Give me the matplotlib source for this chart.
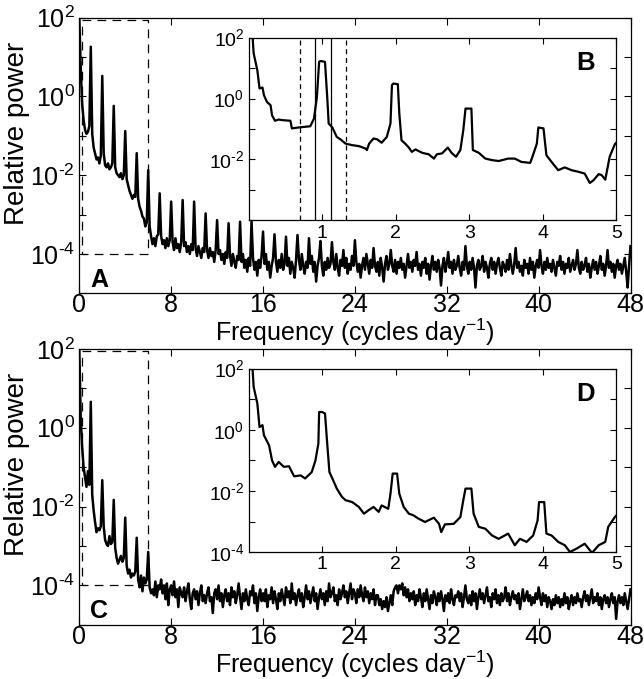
import matplotlib
matplotlib.use("Agg")
import matplotlib.pyplot as plt
import numpy as np
from matplotlib.ticker import FixedLocator, FixedFormatter, NullLocator

plt.rcParams["font.family"] = ["Liberation Sans", "DejaVu Sans"]
plt.rcParams["mathtext.fontset"] = "custom"
plt.rcParams["mathtext.rm"] = "Liberation Sans"
plt.rcParams["mathtext.it"] = "Liberation Sans:italic"
plt.rcParams["mathtext.bf"] = "Liberation Sans:bold"

# ── Data (log10 of relative power) ───────────────────────────────────────────

# full spectra, one value every 1/8 cycle per day from 0 to 48
FREQ_STEP = 0.125

a_logp = [
    2.0, 0.7, -0.2, -0.6, -0.85, -0.95, -0.9, -0.75,
    1.26, -0.95, -1.3, -1.45, -1.6, -1.55, -1.7, -1.5,
    0.52, -1.45, -1.75, -1.8, -1.7, -1.85, -1.8, -1.7,
    -0.24, -1.8, -1.95, -2.0, -2.05, -1.95, -2.1, -2.0,
    -0.88, -2.1, -2.25, -2.4, -2.5, -2.6, -2.5, -2.55,
    -1.44, -2.6, -2.8, -2.9, -3.05, -3.1, -3.3, -3.2,
    -1.87, -3.3, -3.55, -3.75, -3.6, -3.8, -3.55, -3.5,
    -2.46, -3.55, -3.75, -3.65, -3.85, -3.6, -3.8, -3.65,
    -2.67, -3.7, -3.9, -3.6, -3.85, -3.75, -3.95, -3.7,
    -2.63, -3.8, -3.7, -3.95, -3.8, -4.0, -3.75, -3.9,
    -2.67, -3.85, -4.05, -3.8, -3.95, -4.1, -3.85, -3.95,
    -2.97, -3.9, -4.1, -3.85, -4.05, -3.95, -4.2, -3.9,
    -3.14, -4.0, -3.9, -4.15, -4.0, -4.25, -3.95, -4.1,
    -3.22, -4.05, -4.3, -4.0, -4.2, -4.35, -4.05, -4.15,
    -3.18, -4.2, -4.0, -4.35, -4.15, -4.45, -4.1, -4.3,
    -3.18, -4.1, -4.4, -4.2, -4.55, -4.15, -4.35, -4.05,
    -3.43, -4.25, -4.0, -4.4, -4.2, -4.6, -4.3, -4.1,
    -3.5, -4.2, -4.45, -4.15, -4.35, -4.0, -4.4, -4.25,
    -3.56, -4.3, -4.1, -4.5, -4.2, -4.35, -4.6, -4.15,
    -3.52, -4.15, -4.4, -4.0, -4.3, -4.5, -4.2, -4.35,
    -3.6, -4.25, -4.05, -4.45, -4.2, -4.7, -4.3, -4.1,
    -3.67, -4.3, -4.55, -4.2, -4.4, -4.1, -4.35, -4.25,
    -3.7, -4.2, -4.4, -4.0, -4.35, -4.55, -4.15, -4.3,
    -3.9, -4.35, -4.1, -4.5, -4.25, -4.4, -4.05, -4.3,
    -3.65, -4.2, -4.45, -4.25, -4.6, -4.3, -4.1, -4.4,
    -4.0, -4.25, -4.5, -4.15, -4.35, -3.85, -4.3, -4.45,
    -4.2, -4.55, -4.1, -4.35, -4.7, -4.25, -4.05, -4.4,
    -4.25, -3.9, -4.3, -4.45, -4.15, -4.5, -4.2, -4.35,
    -4.1, -4.4, -4.25, -4.6, -4.3, -4.0, -4.35, -4.2,
    -4.45, -4.15, -4.3, -3.95, -4.4, -4.25, -4.55, -4.2,
    -4.35, -4.1, -4.5, -4.25, -4.65, -4.3, -4.05, -4.4,
    -4.2, -4.45, -4.15, -4.35, -4.8, -4.3, -4.1, -4.45,
    -4.25, -3.95, -4.35, -4.2, -4.5, -4.15, -4.4, -4.3,
    -4.05, -4.35, -4.55, -4.2, -4.4, -3.8, -4.3, -4.5,
    -4.2, -4.4, -4.1, -4.35, -4.85, -4.3, -4.15, -4.4,
    -4.3, -4.05, -4.45, -4.2, -4.35, -4.6, -4.25, -4.1,
    -4.4, -4.2, -4.5, -4.25, -4.1, -4.35, -4.55, -4.2,
    -4.3, -4.45, -4.15, -4.4, -4.0, -4.3, -4.5, -4.25,
    -3.85, -4.35, -4.2, -4.45, -4.3, -4.55, -4.15, -4.35,
    -4.25, -4.5, -4.1, -4.4, -4.2, -4.6, -4.3, -4.15,
    -4.35, -3.9, -4.3, -4.5, -4.2, -4.4, -4.1, -4.35,
    -4.25, -4.45, -4.15, -4.35, -4.55, -4.2, -4.3, -4.05,
    -4.4, -4.2, -4.5, -4.25, -4.35, -4.1, -4.45, -4.3,
    -4.15, -4.4, -4.25, -3.9, -4.35, -4.5, -4.2, -4.4,
    -4.3, -4.1, -4.45, -4.25, -4.6, -4.35, -4.15, -4.4,
    -4.2, -4.5, -4.3, -4.05, -4.4, -4.25, -4.55, -4.3,
    -3.9, -4.35, -4.2, -4.45, -4.25, -4.6, -4.3, -4.15,
    -4.4, -4.25, -4.5, -4.3, -4.1, -4.45, -4.85, -4.3,
    -3.8,
]

c_logp = [
    2.0, 0.2, -0.5, -1.0, -1.25, -1.5, -1.1, -1.45,
    0.66, -1.7, -2.1, -2.4, -2.65, -2.55, -2.6, -2.5,
    -1.33, -2.5, -2.85, -2.95, -3.0, -2.75, -2.95, -2.9,
    -1.83, -3.05, -3.3, -3.45, -3.35, -3.25, -3.4, -3.3,
    -2.28, -3.5, -3.7, -3.6, -3.8, -3.7, -3.75, -3.65,
    -2.79, -3.85, -4.05, -3.75, -4.15, -3.8, -3.95, -3.85,
    -3.15, -4.05, -4.2, -4.1, -4.25, -3.9, -4.3, -4.0,
    -4.1, -3.85, -4.2, -4.0, -4.35, -3.95, -4.5, -4.1,
    -4.0, -4.25, -3.9, -4.3, -4.1, -4.55, -4.05, -4.2,
    -4.3, -4.05, -4.4, -4.15, -3.95, -4.35, -4.6, -4.2,
    -4.1, -4.35, -4.15, -4.5, -4.2, -4.0, -4.4, -4.25,
    -4.45, -4.2, -4.05, -4.4, -4.3, -4.7, -4.2, -4.1,
    -4.35, -4.0, -4.4, -4.2, -4.55, -4.25, -4.1, -4.4,
    -4.2, -4.5, -4.05, -4.3, -4.15, -4.45, -4.25, -3.95,
    -4.3, -4.6, -4.2, -4.4, -4.1, -4.35, -4.5, -4.15,
    -4.25, -4.0, -4.45, -4.2, -4.65, -4.3, -4.1, -4.4,
    -4.2, -4.4, -4.1, -4.55, -4.25, -4.35, -4.05, -4.45,
    -4.15, -4.35, -4.6, -4.2, -4.4, -4.1, -4.3, -4.5,
    -4.05, -4.3, -4.15, -4.45, -3.95, -4.35, -4.2, -4.5,
    -4.25, -4.1, -4.4, -4.2, -4.55, -4.3, -4.0, -4.35,
    -4.15, -4.45, -4.25, -4.05, -4.4, -4.2, -4.6, -4.3,
    -4.1, -4.35, -4.2, -4.5, -4.15, -4.4, -3.95, -4.3,
    -4.2, -4.05, -4.4, -4.25, -4.5, -4.1, -4.35, -4.2,
    -4.0, -4.3, -4.15, -4.45, -4.2, -3.95, -4.35, -4.1,
    -4.2, -4.45, -4.1, -4.3, -4.0, -4.25, -4.4, -4.05,
    -4.3, -4.15, -4.45, -4.2, -4.35, -4.1, -4.5, -4.25,
    -4.25, -4.5, -4.35, -4.6, -4.4, -4.55, -4.3, -4.65,
    -4.45, -4.25, -4.5, -4.15, -4.05, -4.0, -4.2, -4.0,
    -4.1, -3.95, -4.25, -4.05, -4.3, -4.1, -4.4, -4.2,
    -4.35, -4.15, -4.5, -4.25, -4.4, -4.1, -4.3, -4.55,
    -4.2, -4.4, -4.1, -4.35, -4.6, -4.25, -4.45, -4.15,
    -4.3, -4.5, -4.2, -4.4, -4.15, -4.35, -4.65, -4.25,
    -4.4, -4.2, -4.45, -4.1, -4.35, -4.5, -4.25, -4.3,
    -4.15, -4.4, -4.2, -4.55, -4.3, -4.0, -4.35, -4.45,
    -4.25, -4.5, -4.15, -4.4, -4.2, -4.6, -4.3, -4.1,
    -4.35, -4.2, -4.45, -4.25, -4.05, -4.4, -4.3, -4.55,
    -4.2, -4.35, -4.1, -4.45, -4.25, -4.5, -4.2, -4.4,
    -4.3, -4.05, -4.4, -4.2, -4.5, -4.3, -4.15, -4.35,
    -4.25, -4.45, -4.2, -4.6, -4.35, -4.1, -4.4, -4.3,
    -4.15, -4.4, -4.25, -4.5, -4.3, -4.45, -4.2, -4.35,
    -4.05, -4.3, -4.5, -4.2, -4.4, -4.25, -4.55, -4.3,
    -4.4, -4.6, -4.35, -4.5, -4.25, -4.45, -4.3, -4.55,
    -4.35, -4.5, -4.2, -4.45, -4.3, -4.6, -4.4, -4.25,
    -4.5, -4.3, -4.45, -4.2, -4.4, -4.35, -4.55, -4.3,
    -4.15, -4.4, -4.25, -4.5, -4.3, -4.1, -4.45, -4.3,
    -4.4, -4.2, -4.5, -4.3, -4.6, -4.35, -4.25, -4.45,
    -4.3, -4.55, -4.35, -4.2, -4.45, -4.3, -4.85, -4.4,
    -4.25, -4.45, -4.3, -4.5, -4.2, -4.4, -4.6, -4.35,
    -4.1,
]

# smoothed low-frequency spectra shown in the insets
b_freq = [0.04, 0.07, 0.12, 0.15, 0.19, 0.21, 0.25, 0.30, 0.32, 0.36, 0.41,
          0.46, 0.57, 0.59, 0.68, 0.84, 0.89, 0.93, 0.96, 0.98, 1.04, 1.07,
          1.09, 1.14, 1.20, 1.25, 1.32, 1.41, 1.50, 1.59, 1.61, 1.64, 1.70,
          1.75, 1.81, 1.88, 1.93, 1.95, 1.97, 2.03, 2.05, 2.08, 2.13, 2.18,
          2.22, 2.27, 2.36, 2.45, 2.52, 2.56, 2.63, 2.71, 2.76, 2.82, 2.88,
          2.92, 2.95, 3.03, 3.05, 3.13, 3.22, 3.31, 3.40, 3.53, 3.62, 3.71,
          3.83, 3.86, 3.92, 3.94, 4.01, 4.05, 4.12, 4.21, 4.30, 4.39, 4.48,
          4.57, 4.64, 4.69, 4.76, 4.80, 4.85, 4.91, 4.98, 5.0]
b_logp = [2.6, 1.48, 0.93, 0.33, 0.36, 0.11, -0.11, -0.22, -0.55, -0.73,
          -0.69, -0.71, -0.73, -0.98, -0.95, -0.91, -0.66, 0.05, 1.2, 1.23,
          1.2, 0.05, -0.82, -0.95, -1.26, -1.34, -1.48, -1.53, -1.56, -1.64,
          -1.69, -1.48, -1.31, -1.34, -1.45, -1.26, -0.82, 0.44, 0.49, 0.47,
          -0.49, -1.37, -1.48, -1.61, -1.75, -1.67, -1.78, -1.83, -1.97,
          -1.83, -1.80, -1.61, -1.78, -1.91, -1.69, -1.04, -0.33, -0.33,
          -1.69, -1.78, -1.97, -2.02, -2.05, -1.97, -1.97, -2.08, -2.11,
          -1.91, -1.48, -0.95, -0.98, -1.86, -2.08, -2.35, -2.26, -2.35,
          -2.40, -2.46, -2.77, -2.68, -2.48, -2.51, -2.66, -1.91, -1.50, -1.45]

d_freq = [0.04, 0.07, 0.12, 0.15, 0.19, 0.21, 0.28, 0.32, 0.36, 0.41, 0.48,
          0.55, 0.62, 0.71, 0.77, 0.86, 0.91, 0.95, 0.96, 1.0, 1.04, 1.07,
          1.10, 1.14, 1.20, 1.27, 1.32, 1.41, 1.50, 1.57, 1.63, 1.70, 1.77,
          1.81, 1.90, 1.93, 1.96, 2.02, 2.05, 2.11, 2.18, 2.24, 2.31, 2.40,
          2.52, 2.59, 2.62, 2.67, 2.79, 2.88, 2.92, 2.95, 3.03, 3.06, 3.13,
          3.22, 3.31, 3.40, 3.53, 3.62, 3.69, 3.78, 3.87, 3.93, 3.95, 4.02,
          4.05, 4.12, 4.21, 4.30, 4.37, 4.46, 4.57, 4.67, 4.76, 4.85, 4.89,
          4.98, 5.0]
d_logp = [2.6, 1.40, 0.86, 0.09, 0.15, -0.18, -0.51, -1.0, -1.21, -1.05,
          -1.21, -1.19, -1.52, -1.49, -1.59, -1.38, -1.0, -0.45, 0.58, 0.58,
          0.53, -0.45, -1.38, -1.59, -1.92, -2.19, -2.30, -2.36, -2.52,
          -2.74, -2.63, -2.52, -2.68, -2.47, -2.58, -2.09, -1.43, -1.43,
          -2.09, -2.52, -2.74, -2.79, -2.90, -3.01, -2.87, -3.07, -3.34,
          -3.09, -3.07, -2.85, -2.30, -1.92, -1.92, -2.74, -3.17, -3.23,
          -3.45, -3.56, -3.39, -3.77, -3.56, -3.66, -3.45, -2.96, -2.36,
          -2.36, -3.39, -3.45, -3.66, -3.77, -3.99, -3.88, -3.72, -4.02,
          -3.77, -3.66, -3.17, -2.85, -2.80]

# frequency markers in inset B (cycles per day)
b_dashed = [0.7, 1.32]
b_solid = [0.905, 1.115]

main_yexp = [-5, -4, -3, -2, -1, 0, 1, 2]
inset_yexp = [-4, -3, -2, -1, 0, 1, 2]

# ── Figure ───────────────────────────────────────────────────────────────────

W, H = 644, 679
fig = plt.figure(figsize=(W / 100, H / 100), dpi=100, facecolor="white")


def px_axes(left, top, right, bottom):
    return fig.add_axes([left / W, 1 - bottom / H, (right - left) / W, (bottom - top) / H])


def exp_labels(exps, shown):
    # superscript with a plain hyphen, as in the original figure
    out = []
    for e in exps:
        if e not in shown:
            out.append("")
        elif e < 0:
            out.append(rf"$\mathregular{{10^{{\text{{-}}{-e}}}}}$")
        else:
            out.append(rf"$\mathregular{{10^{{{e}}}}}$")
    return out


def style_main(ax, logp, tag):
    freq = np.arange(len(logp)) * FREQ_STEP
    ax.plot(freq, 10.0 ** np.array(logp), color="black", lw=1.8)
    ax.set_yscale("log")
    ax.set_xlim(0, 48)
    ax.set_ylim(1e-5, 1e2)
    ax.set_xticks(np.arange(0, 49, 8))
    ticks = [10.0 ** e for e in main_yexp]
    ax.yaxis.set_major_locator(FixedLocator(ticks))
    ax.yaxis.set_major_formatter(FixedFormatter(exp_labels(main_yexp, [2, 0, -2, -4])))
    ax.yaxis.set_minor_locator(NullLocator())
    ax.tick_params(direction="in", top=True, right=True, length=5, width=0.8,
                   labelsize=18)
    ax.tick_params(axis="x", pad=0)
    ax.tick_params(axis="y", pad=3)
    for s in ax.spines.values():
        s.set_linewidth(0.9)
    ax.set_xlabel("Frequency (cycles day$^{-1}$)", fontsize=18, labelpad=-0.5)
    ax.set_ylabel("Relative power", fontsize=20)
    ax.yaxis.set_label_coords(-0.09, 0.58)
    # dashed box marking the zoomed region
    bx0, bx1, by0, by1 = 0.2, 6.0, 1e-4, 10 ** 1.95
    ax.plot([bx0, bx1, bx1, bx0, bx0], [by1, by1, by0, by0, by1], color="black",
            lw=0.9, ls=(0, (7, 5)))
    ax.text(0.02, 0.023, tag, transform=ax.transAxes, fontsize=18,
            fontweight="bold", ha="left", va="baseline")


def style_inset(ax, freq, logp, tag, shown):
    ax.plot(freq, 10.0 ** np.array(logp), color="black", lw=1.6)
    ax.set_yscale("log")
    ax.set_xlim(0, 5)
    ax.set_ylim(1e-4, 1e2)
    ax.set_xticks([1, 2, 3, 4, 5])
    ticks = [10.0 ** e for e in inset_yexp]
    ax.yaxis.set_major_locator(FixedLocator(ticks))
    ax.yaxis.set_major_formatter(FixedFormatter(exp_labels(inset_yexp, shown)))
    ax.yaxis.set_minor_locator(NullLocator())
    ax.tick_params(direction="in", top=True, right=True, length=4, width=0.8,
                   labelsize=14, pad=3)
    for s in ax.spines.values():
        s.set_linewidth(0.9)
    ax.text(0.942, 0.825, tag, transform=ax.transAxes, fontsize=18.5,
            fontweight="bold", ha="right", va="baseline")


ax_a = px_axes(79.3, 17.6, 630.5, 293.4)
style_main(ax_a, a_logp, "A")
ax_b = px_axes(248.5, 37.5, 616.3, 220.5)
style_inset(ax_b, b_freq, b_logp, "B", [2, 0, -2])
for x in b_dashed:
    ax_b.axvline(x, color="black", lw=0.9, ls=(0, (4, 3)))
for x in b_solid:
    ax_b.axvline(x, color="black", lw=0.9)

ax_c = px_axes(79.3, 349.0, 630.5, 624.8)
style_main(ax_c, c_logp, "C")
ax_d = px_axes(248.5, 368.5, 616.3, 552.3)
style_inset(ax_d, d_freq, d_logp, "D", [2, 0, -2, -4])

fig.savefig("out.png", dpi=100, facecolor="white")
